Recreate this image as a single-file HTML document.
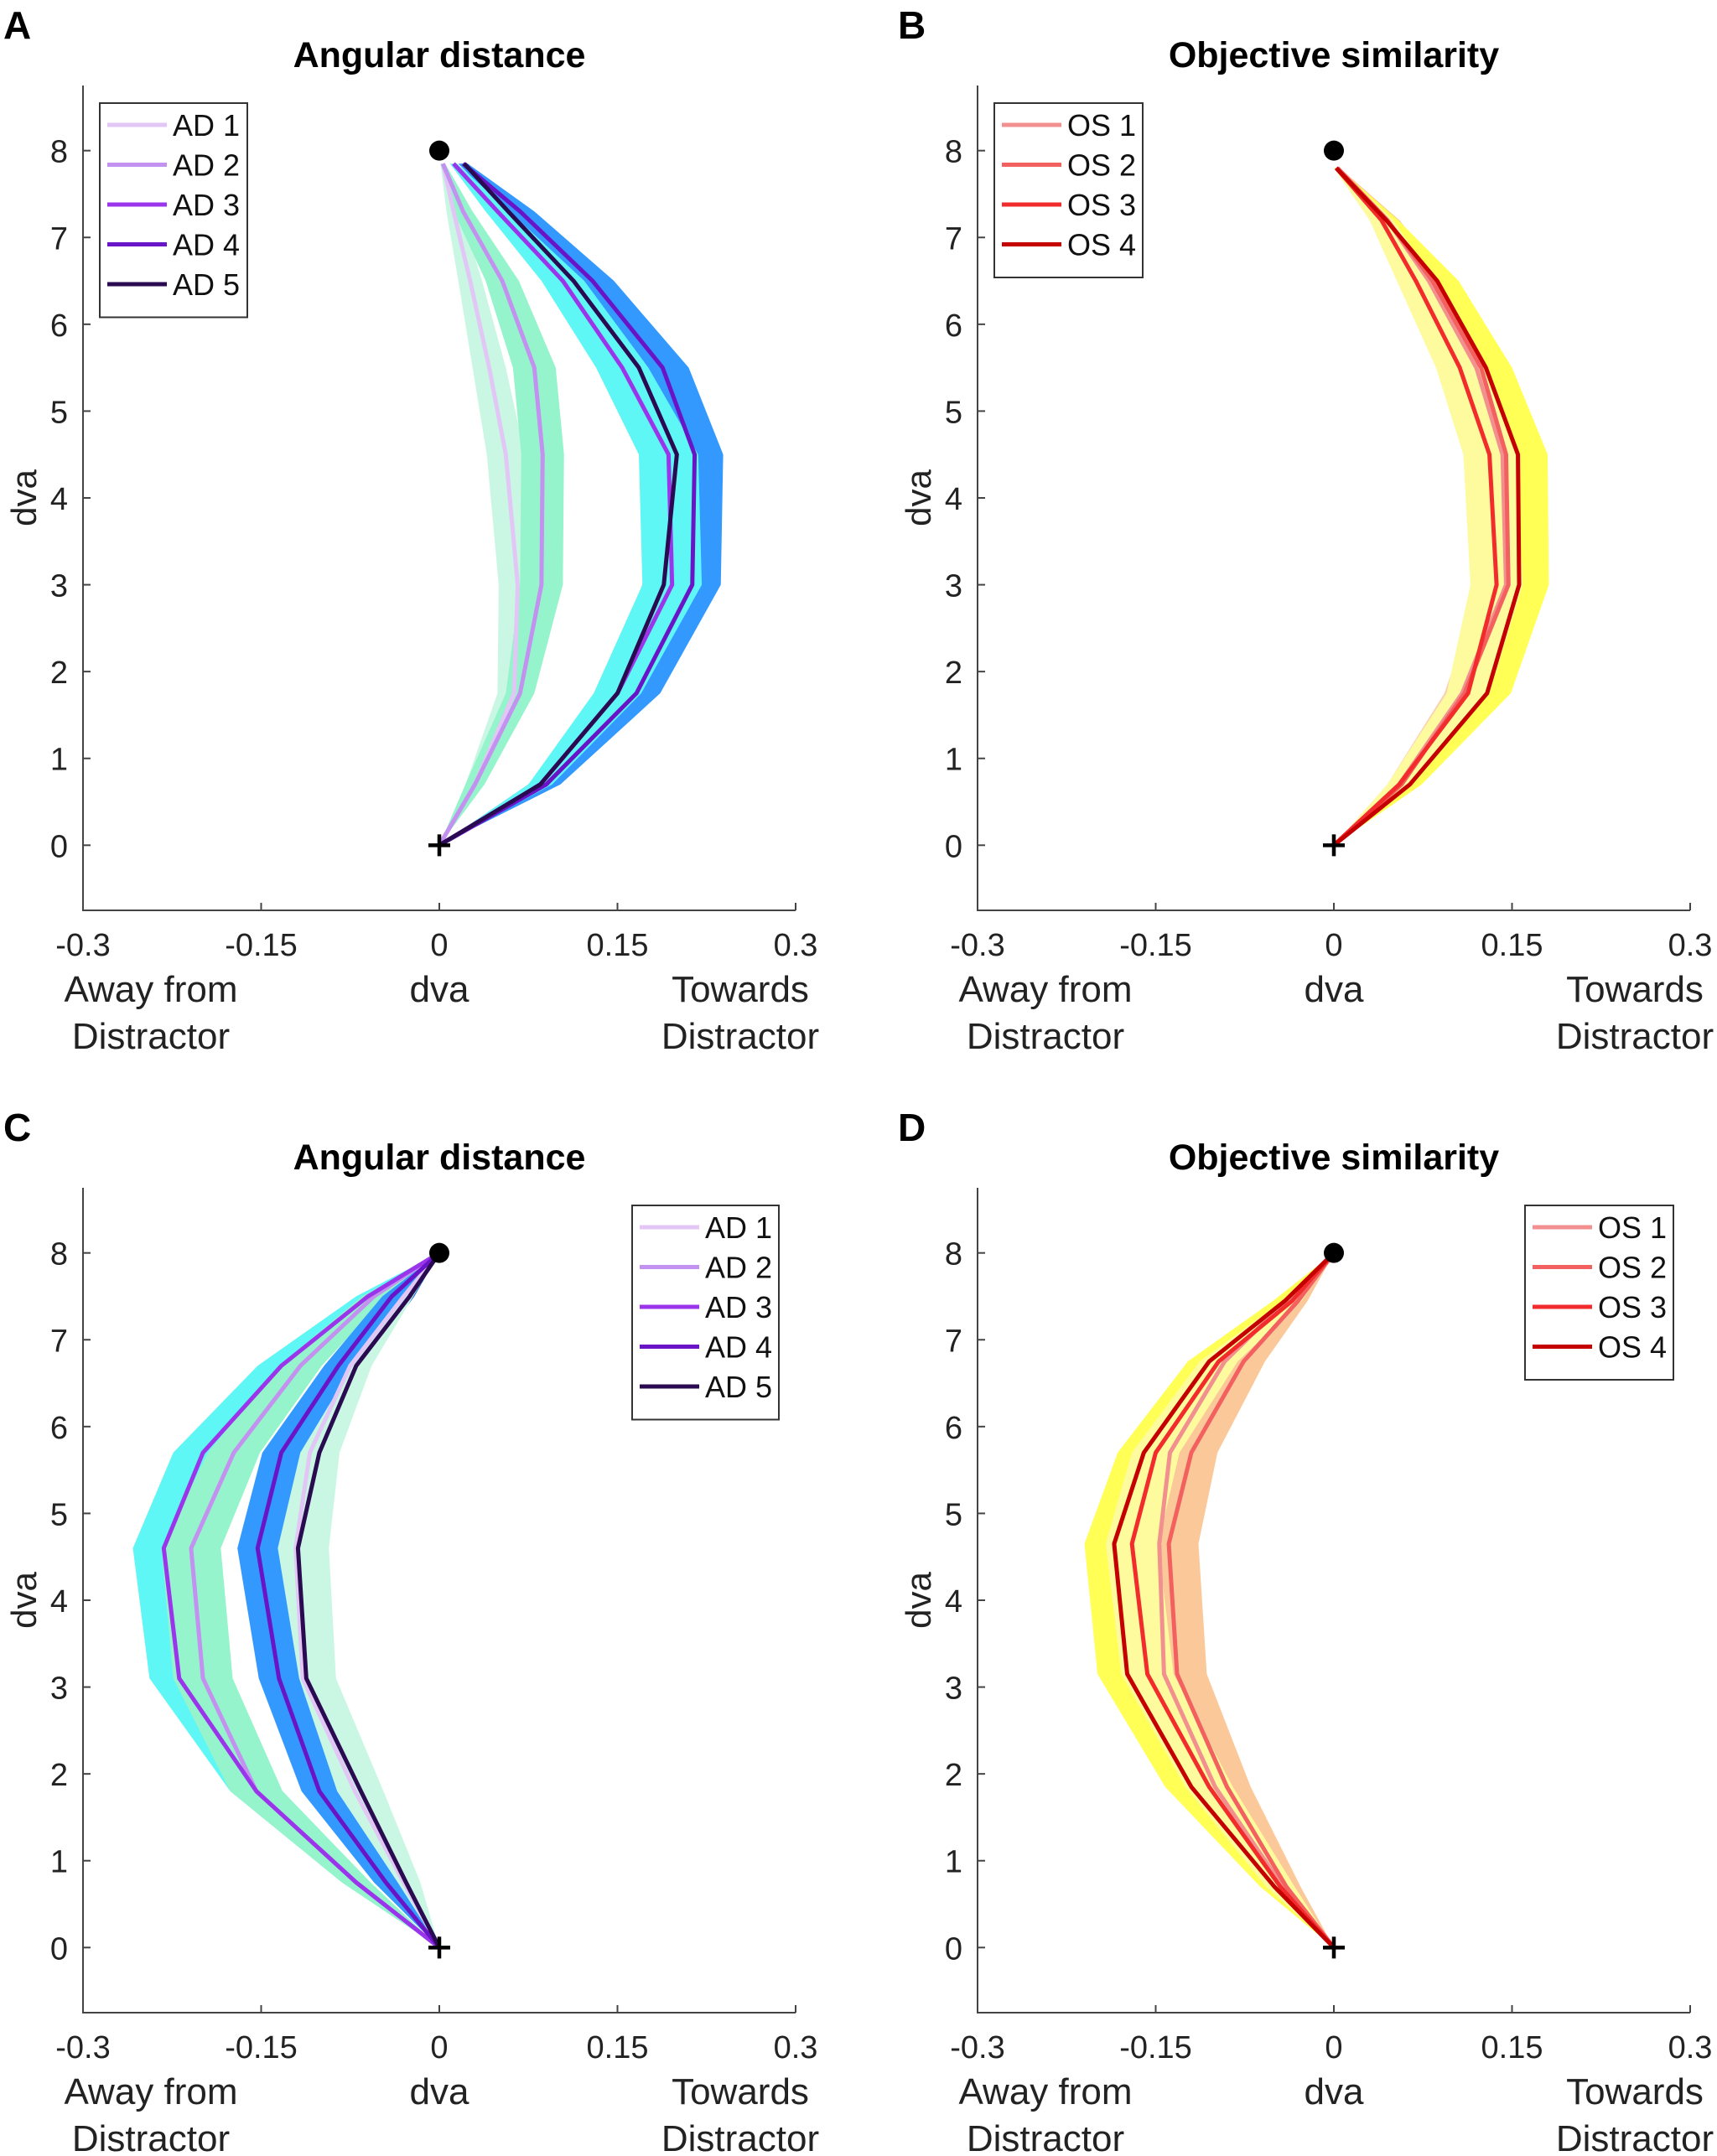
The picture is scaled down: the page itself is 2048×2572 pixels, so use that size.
<!DOCTYPE html>
<html><head><meta charset="utf-8"><style>
html,body{margin:0;padding:0;background:#fff;}
svg{display:block;font-family:"Liberation Sans",Arial,sans-serif;}
</style></head><body>
<svg id="fig" width="2048" height="2572" viewBox="0 0 2048 2572" xmlns="http://www.w3.org/2000/svg"></svg>
<script>
// ---- Panel A (Angular distance, towards) ----
const levelsA = [0,0.7,1.75,3,4.5,5.5,6.5,7.3,7.85];
const adA1 = [0,0.03,0.063,0.066,0.056,0.042,0.026,0.012,0.003];
const adA2 = [0,0.03,0.068,0.086,0.087,0.080,0.053,0.02,0.003];
const adA3 = [0,0.085,0.150,0.196,0.193,0.154,0.104,0.049,0.012];
const adA4 = [0,0.09,0.166,0.213,0.215,0.188,0.129,0.068,0.02];
const adA5 = [0,0.085,0.150,0.189,0.200,0.168,0.113,0.058,0.021];
const errA1 = [0,0.008,0.014,0.016,0.016,0.014,0.01,0.006,0.002];
const errA2 = [0,0.008,0.012,0.018,0.018,0.018,0.014,0.008,0.002];
const errA3 = [0,0.01,0.02,0.025,0.025,0.022,0.018,0.01,0.003];
const errA4 = [0,0.012,0.02,0.024,0.024,0.022,0.018,0.012,0.004];
const errA5 = [0,0.01,0.015,0.018,0.018,0.016,0.012,0.008,0.003];
// ---- Panel B (Objective similarity, towards) ----
const levelsB = [0,0.7,1.75,3,4.5,5.5,6.5,7.2,7.8];
const osB1 = [0,0.055,0.108,0.145,0.142,0.12,0.08,0.045,0.003];
const osB2 = [0,0.057,0.11,0.147,0.145,0.124,0.083,0.045,0.003];
const osB3 = [0,0.055,0.113,0.137,0.131,0.106,0.069,0.04,0.002];
const osB4 = [0,0.064,0.129,0.156,0.155,0.128,0.087,0.044,0.002];
const errB1 = [0,0.01,0.015,0.02,0.02,0.018,0.014,0.01,0.002];
const errB2 = [0,0.01,0.015,0.02,0.02,0.018,0.014,0.01,0.002];
const errB3 = [0,0.01,0.018,0.022,0.022,0.02,0.016,0.01,0.002];
const errB4 = [0,0.01,0.02,0.025,0.025,0.022,0.018,0.01,0.002];
// ---- Panel C (Angular distance, away) ----
const levelsC = [0,0.75,1.8,3.1,4.6,5.7,6.7,7.5,8];
const adC1 = [0,-0.03,-0.071,-0.115,-0.121,-0.109,-0.075,-0.03,0];
const adC2 = [0,-0.07,-0.154,-0.199,-0.209,-0.173,-0.117,-0.055,0];
const adC3 = [0,-0.07,-0.154,-0.219,-0.232,-0.199,-0.133,-0.06,0];
const adC4 = [0,-0.045,-0.101,-0.135,-0.153,-0.133,-0.085,-0.04,0];
const adC5 = [0,-0.028,-0.066,-0.112,-0.119,-0.101,-0.07,-0.025,0];
const errC1 = [0,0.014,0.024,0.028,0.028,0.025,0.018,0.008,0];
const errC2 = [0,0.012,0.022,0.025,0.025,0.022,0.018,0.01,0];
const errC3 = [0,0.012,0.022,0.025,0.026,0.025,0.02,0.01,0];
const errC4 = [0,0.01,0.015,0.017,0.017,0.016,0.012,0.008,0];
const errC5 = [0,0.006,0.008,0.01,0.01,0.008,0.006,0.004,0];
// ---- Panel D (Objective similarity, away) ----
const levelsD = [0,0.7,1.85,3.15,4.65,5.7,6.75,7.45,8];
const osD1 = [0,-0.043,-0.1,-0.143,-0.147,-0.138,-0.092,-0.04,0];
const osD2 = [0,-0.04,-0.09,-0.132,-0.139,-0.12,-0.076,-0.03,0];
const osD3 = [0,-0.045,-0.105,-0.157,-0.17,-0.15,-0.097,-0.035,0];
const osD4 = [0,-0.05,-0.12,-0.174,-0.185,-0.16,-0.105,-0.041,0];
const errD1 = [0,0.01,0.015,0.015,0.015,0.015,0.012,0.006,0];
const errD2 = [0,0.012,0.02,0.025,0.025,0.022,0.018,0.008,0];
const errD3 = [0,0.012,0.02,0.022,0.022,0.02,0.016,0.008,0];
const errD4 = [0,0.012,0.022,0.025,0.025,0.022,0.018,0.01,0];
// ---- shared axis ticks ----
const xTicks = [-0.3,-0.15,0,0.15,0.3];
const xTickLabels = ["-0.3","-0.15","0","0.15","0.3"];
const yTicks = [0,1,2,3,4,5,6,7,8];
const adNames = ["AD 1","AD 2","AD 3","AD 4","AD 5"];
const osNames = ["OS 1","OS 2","OS 3","OS 4"];

const NS = "http://www.w3.org/2000/svg";
const svg = document.getElementById("fig");
function mk(tag, attrs, parent){
  const e = document.createElementNS(NS, tag);
  for (const k in attrs) e.setAttribute(k, attrs[k]);
  (parent||svg).appendChild(e);
  return e;
}
const adLine = ["#e2c6f6","#c391ef","#9b35ec","#6a14c8","#2a0b52"];
const adBand = ["#c9f7e3","#95f4cb","#5ff6f6","#3399ff","#1f6fd6"];
const osLine = ["#f29090","#f26060","#f22c2c","#c40000"];
const osBand = ["#fad2b4","#fbc899","#fdfb9e","#ffff55"];

function panel(opt){
  const g = mk("g", {});
  
  
  const L = 99 + opt.dx, R = 949 + opt.dx;
  const top = 102 + opt.dy, bot = 1086 + opt.dy;
  const x = v => L + (v + 0.3) / 0.6 * (R - L);
  const y = v => bot - (v + 0.75) / 9.5 * (bot - top);
  const letter = mk("text", {x: 4 + opt.dx, y: 46 + opt.dy, "font-size": 46, "font-weight": "bold", fill: "#000"}, g);
  letter.textContent = opt.letter;
  
  
  const title = mk("text", {x: (L+R)/2, y: 80 + opt.dy, "font-size": 43, "font-weight": "bold", "text-anchor": "middle", fill: "#000"}, g);
  title.textContent = opt.title;
  
  
  // bands
  opt.order.forEach(i => {
    const s = opt.series[i];
    let pts = [];
    s.mean.forEach((m, j) => pts.push(x(m - s.err[j]) + "," + y(opt.levels[j])));
    for (let j = s.mean.length - 1; j >= 0; j--) pts.push(x(s.mean[j] + s.err[j]) + "," + y(opt.levels[j]));
    const b = mk("polygon", {points: pts.join(" "), fill: s.band, stroke: "none"}, g);
    
    
  });
  // lines
  opt.series.forEach((s, i) => {
    const pts = s.mean.map((m, j) => x(m) + "," + y(opt.levels[j])).join(" ");
    const l = mk("polyline", {points: pts, fill: "none", stroke: s.line, "stroke-width": 5, "stroke-linejoin": "round"}, g);
    
    
  });
  const dot = mk("circle", {cx: x(0), cy: y(8), r: 12, fill: "#000"}, g);
  
  
  const plus = mk("path", {d: `M${x(0)-13},${y(0)} h26 M${x(0)},${y(0)-13} v26`, stroke: "#000", "stroke-width": 4.5}, g);
  
  
  const ax = mk("path", {d: `M${L},${top} V${bot} H${R}`, fill: "none", stroke: "#444", "stroke-width": 2}, g);
  
  
  xTicks.forEach((t, i) => {
    mk("line", {x1: x(t), x2: x(t), y1: bot, y2: bot - 9, stroke: "#444", "stroke-width": 2}, g);
    const tl = mk("text", {x: x(t), y: bot + 54, "font-size": 38, "text-anchor": "middle", fill: "#222"}, g);
    tl.textContent = xTickLabels[i];
    
    
  });
  yTicks.forEach(t => {
    mk("line", {x1: L, x2: L + 9, y1: y(t), y2: y(t), stroke: "#444", "stroke-width": 2}, g);
    const tl = mk("text", {x: L - 18, y: y(t) + 14, "font-size": 38, "text-anchor": "end", fill: "#222"}, g);
    tl.textContent = String(t);
    
    
  });
  const yl = mk("text", {x: 0, y: 0, "font-size": 42, "text-anchor": "middle", fill: "#222", transform: `translate(${L-56},${y(4)}) rotate(-90)`}, g);
  yl.textContent = "dva";
  
  
  const xlab = [["Away from", 180, 1195], ["Distractor", 180, 1251], ["dva", 524, 1195], ["Towards", 883, 1195], ["Distractor", 883, 1251]];
  xlab.forEach(a => {
    const t = mk("text", {x: a[1] + opt.dx, y: a[2] + opt.dy, "font-size": 44, "text-anchor": "middle", fill: "#222"}, g);
    t.textContent = a[0];
    
    
  });
  const n = opt.series.length;
  const lg = mk("g", {}, g);
  
  
  mk("rect", {x: opt.lx, y: 123 + opt.dy, width: opt.lw, height: 18 + n * 47.5, fill: "#fff", stroke: "#333", "stroke-width": 2}, lg);
  opt.series.forEach((s, i) => {
    const cy = 149 + i * 47.5 + opt.dy;
    const e = mk("g", {}, lg);
    
    
    mk("line", {x1: opt.lx + 9, x2: opt.lx + 80, y1: cy, y2: cy, stroke: s.line, "stroke-width": 5}, e);
    const t = mk("text", {x: opt.lx + 87, y: cy + 13, "font-size": 36, fill: "#111"}, e);
    t.textContent = opt.names[i];
  });
}

panel({name: "panel-a", letter: "A", title: "Angular distance", dx: 0, dy: 0, levels: levelsA, names: adNames, lx: 119, lw: 176, order: [4,0,1,3,2],
  series: [adA1,adA2,adA3,adA4,adA5].map((m,i)=>({mean:m, err:[errA1,errA2,errA3,errA4,errA5][i], line: adLine[i], band: adBand[i]}))});
panel({name: "panel-b", letter: "B", title: "Objective similarity", dx: 1067, dy: 0, levels: levelsB, names: osNames, lx: 1186, lw: 177, order: [0,1,3,2],
  series: [osB1,osB2,osB3,osB4].map((m,i)=>({mean:m, err:[errB1,errB2,errB3,errB4][i], line: osLine[i], band: osBand[i]}))});
panel({name: "panel-c", letter: "C", title: "Angular distance", dx: 0, dy: 1315, levels: levelsC, names: adNames, lx: 754, lw: 175, order: [4,0,2,1,3],
  series: [adC1,adC2,adC3,adC4,adC5].map((m,i)=>({mean:m, err:[errC1,errC2,errC3,errC4,errC5][i], line: adLine[i], band: adBand[i]}))});
panel({name: "panel-d", letter: "D", title: "Objective similarity", dx: 1067, dy: 1315, levels: levelsD, names: osNames, lx: 1819, lw: 177, order: [0,1,3,2],
  series: [osD1,osD2,osD3,osD4].map((m,i)=>({mean:m, err:[errD1,errD2,errD3,errD4][i], line: osLine[i], band: osBand[i]}))});
</script>
</body></html>
